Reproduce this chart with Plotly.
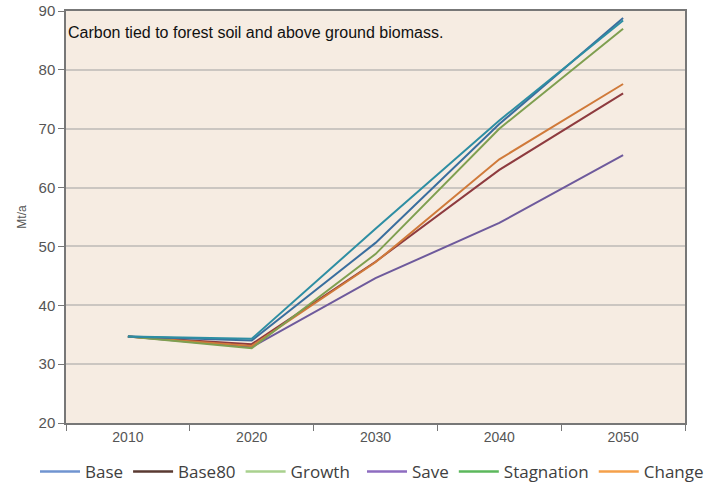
import plotly.graph_objects as go

years = ["2010", "2020", "2030", "2040", "2050"]
series_names = ["Base", "Base80", "Growth", "Save", "Stagnation", "Change"]
base = [34.7, 34.0, 50.6, 70.8, 88.8]
base80 = [34.7, 33.4, 47.4, 63.0, 76.0]
growth = [34.7, 32.7, 48.7, 70.0, 87.0]
save = [34.7, 32.9, 44.6, 54.0, 65.5]
stagnation = [34.7, 34.3, 53.0, 71.4, 88.4]
change = [34.7, 33.1, 47.3, 64.8, 77.6]
values = [base, base80, growth, save, stagnation, change]

line_colors = ["#3a6e9e", "#8e3b3f", "#7f9f50", "#6e5a9c", "#2e8ea3", "#d07a3a"]
legend_colors = ["#7094d0", "#5a3a32", "#a9d18e", "#8e6cc0", "#5cb85c", "#f5a04a"]
draw_order = [3, 1, 5, 2, 0, 4]

fig = go.Figure()
for i in draw_order:
    fig.add_trace(go.Scatter(x=years, y=values[i], mode="lines", name=series_names[i],
                             line=dict(color=line_colors[i], width=2), showlegend=False))
for i, n in enumerate(series_names):
    fig.add_trace(go.Scatter(x=[years[0]], y=[None], mode="lines", name=n,
                             legend="legend" if i < 3 else "legend2",
                             line=dict(color=legend_colors[i], width=2.5), showlegend=True))

leg_common = dict(orientation="h", xanchor="left", xref="container",
                  y=(483 - 472) / 483, yanchor="middle", yref="container",
                  font=dict(family="Open Sans", size=17, color="#404040"),
                  itemwidth=40, tracegroupgap=0, bgcolor="rgba(0,0,0,0)")

fig.update_layout(
    width=721, height=483,
    margin=dict(l=66, r=36, t=11, b=60, autoexpand=False),
    paper_bgcolor="white", plot_bgcolor="#f6ece2",
    font=dict(family="Liberation Sans, Arial", color="#555555"),
    showlegend=True,
    legend=dict(x=35 / 721, **leg_common),
    legend2=dict(x=362 / 721, **leg_common),
    annotations=[dict(text="Carbon tied to forest soil and above ground biomass.",
                      xref="paper", yref="paper", x=0, y=1, xanchor="left", yanchor="top",
                      xshift=0, yshift=-11, showarrow=False,
                      font=dict(family="Liberation Sans, Arial", size=16, color="#111111"))],
)
fig.update_xaxes(type="category", range=[-0.5, 4.5], tickson="boundaries", ticks="outside",
                 ticklen=6, tickcolor="#777777", showline=True, linecolor="#777777",
                 linewidth=1.5, mirror=True, showgrid=False,
                 tickfont=dict(size=14, color="#555555"))
fig.update_yaxes(range=[20, 90], dtick=10, ticks="outside", ticklen=6, tickcolor="#777777",
                 showline=True, linecolor="#777777", linewidth=1.5, mirror=True,
                 gridcolor="#cbc6c1", gridwidth=1.5, zeroline=False,
                 tickfont=dict(size=15, color="#555555"),
                 title=dict(text="Mt/a", font=dict(size=12, color="#555555"), standoff=9))

fig.write_html("out.html", config={"displayModeBar": False},
               post_script="document.body.style.margin='0';")
